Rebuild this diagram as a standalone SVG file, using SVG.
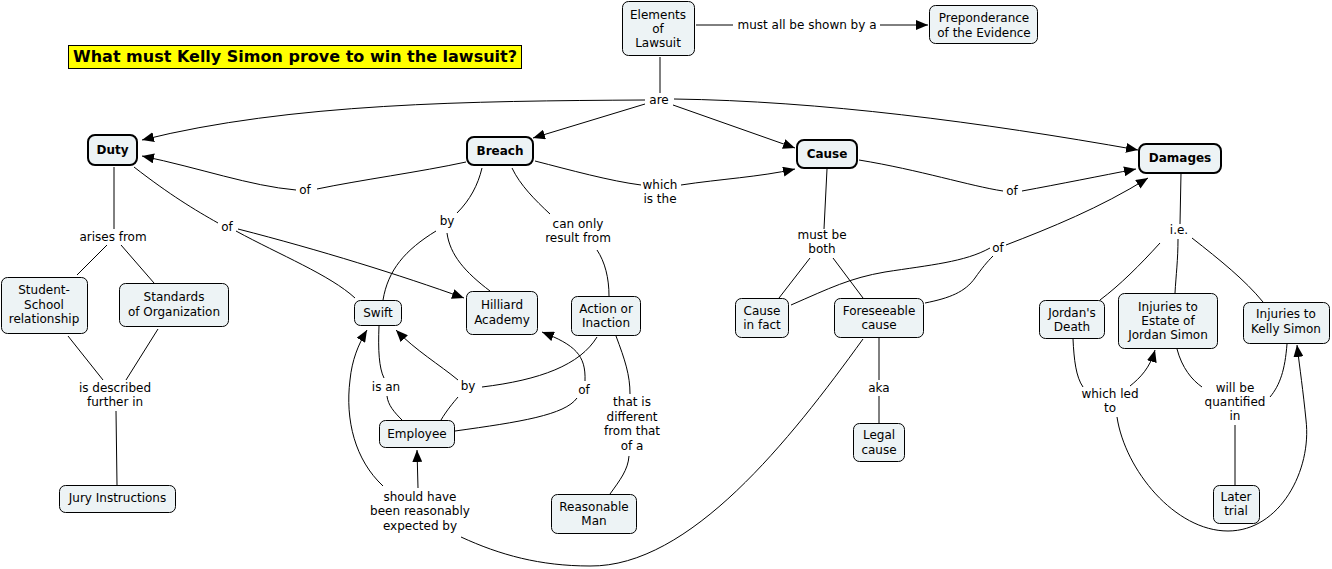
<svg xmlns="http://www.w3.org/2000/svg" width="1332" height="569" viewBox="0 0 1332 569">
<style>
text{font-family:"DejaVu Sans","Liberation Sans",sans-serif;font-size:12px;fill:#000;text-anchor:middle}
.node rect{fill:#edf3f5;stroke:#000;stroke-width:1}
.key rect{stroke-width:2}
.key text{font-weight:bold}
#connectors path{fill:none;stroke:#000;stroke-width:1}
.ar{marker-end:url(#arrow)}
</style>
<defs>
<marker id="arrow" markerUnits="userSpaceOnUse" markerWidth="13" markerHeight="10" refX="12" refY="5" orient="auto">
<path d="M0,0 L12,5 L0,10 z" fill="#000"/>
</marker>
</defs>
<rect width="1332" height="569" fill="#fff"/>

<g id="title">
<rect x="68.5" y="45.5" width="453" height="23" fill="#ffff00" stroke="#000" stroke-width="1"/>
<text x="295" y="62" style="font-weight:bold;font-size:16px">What must Kelly Simon prove to win the lawsuit?</text>
</g>

<g id="connectors">
<path d="M696,25 L733,25"/>
<path class="ar" d="M880,25 L928,25"/>
<path d="M660,57 L660,93"/>
<path class="ar" d="M645,100 C470,101 290,103 142,140"/>
<path class="ar" d="M645,104 L533,138"/>
<path class="ar" d="M673,105 L795,148"/>
<path class="ar" d="M674,99 C820,101 980,122 1138,150"/>
<path class="ar" d="M296,190 C250,186 200,168 142,156"/>
<path d="M466,162 C420,172 360,180 317,189"/>
<path d="M535,161 C570,170 610,181 641,185"/>
<path class="ar" d="M681,185 C720,179 760,177 795,169"/>
<path d="M859,160 C920,170 970,186 1003,191"/>
<path class="ar" d="M1022,191 C1060,184 1100,176 1136,169"/>
<path d="M791,305 C830,288 850,278 885,272 C930,265 965,262 990,248"/>
<path d="M925,303 C950,298 965,292 975,278 C982,268 987,262 993,256"/>
<path class="ar" d="M1006,245 C1050,228 1100,208 1148,178"/>
<path d="M134,167 C170,195 195,210 218,223"/>
<path d="M236,231 C280,255 330,275 355,298"/>
<path class="ar" d="M238,229 C320,250 400,275 464,298"/>
<path d="M114,167 L114,229"/>
<path d="M107,245 L77,275"/>
<path d="M121,245 L154,283"/>
<path d="M68,336 L103,380"/>
<path d="M158,329 L126,380"/>
<path d="M116,411 L117,485"/>
<path d="M482,168 C478,185 470,200 457,213"/>
<path d="M436,231 C405,250 388,270 383,300"/>
<path d="M447,233 C450,255 465,272 490,291"/>
<path d="M512,168 C520,185 535,200 550,214"/>
<path d="M597,250 C605,262 609,278 609,296"/>
<path d="M379,326 C378,350 379,368 384,378"/>
<path d="M387,396 C388,405 394,412 402,420"/>
<path d="M441,420 C447,410 453,403 458,397"/>
<path class="ar" d="M458,380 C440,365 415,350 396,330"/>
<path d="M597,337 C580,365 540,380 482,387"/>
<path d="M455,431 C520,422 565,415 577,398"/>
<path class="ar" d="M585,381 C586,355 575,345 542,332"/>
<path d="M616,336 C625,360 630,375 630,394"/>
<path d="M629,456 C628,470 620,480 610,494"/>
<path class="ar" d="M418,488 L417,450"/>
<path class="ar" d="M383,486 C355,460 345,420 350,380 C352,360 358,345 367,330"/>
<path d="M863,339 C790,440 690,567 590,566 C540,566 500,555 461,537"/>
<path d="M827,169 L824,229"/>
<path d="M810,258 L779,298"/>
<path d="M833,258 L863,298"/>
<path d="M879,338 L879,380"/>
<path d="M879,396 L879,423"/>
<path d="M1181,173 L1180,224"/>
<path d="M1160,243 C1140,265 1120,285 1100,300"/>
<path d="M1178,239 C1178,260 1176,275 1175,293"/>
<path d="M1192,238 C1220,260 1245,280 1263,302"/>
<path d="M1073,339 C1074,360 1076,377 1083,387"/>
<path class="ar" d="M1130,386 C1140,378 1150,368 1155,350"/>
<path class="ar" d="M1117,417 C1125,470 1175,531 1228,531 C1280,531 1312,470 1306,420 C1303,390 1300,370 1297,345"/>
<path d="M1177,349 C1182,368 1192,380 1202,387"/>
<path d="M1287,344 C1285,370 1280,385 1270,397"/>
<path d="M1235,425 L1235,485"/>
</g>

<g id="labels">
<text x="807" y="29">must all be shown by a</text>
<text x="659" y="104">are</text>
<text x="305" y="194">of</text>
<text x="227" y="231">of</text>
<text x="660" y="189">which</text>
<text x="660" y="203">is the</text>
<text x="1012" y="195">of</text>
<text x="447" y="225">by</text>
<text x="578" y="228">can only</text>
<text x="578" y="242">result from</text>
<text x="113" y="241">arises from</text>
<text x="115" y="392">is described</text>
<text x="115" y="406">further in</text>
<text x="386" y="391">is an</text>
<text x="468" y="390">by</text>
<text x="584" y="394">of</text>
<text x="632" y="406">that is</text>
<text x="632" y="421">different</text>
<text x="632" y="435">from that</text>
<text x="632" y="450">of a</text>
<text x="420" y="501">should have</text>
<text x="420" y="515">been reasonably</text>
<text x="420" y="530">expected by</text>
<text x="822" y="239">must be</text>
<text x="822" y="253">both</text>
<text x="998" y="252">of</text>
<text x="879" y="392">aka</text>
<text x="1179" y="234">i.e.</text>
<text x="1110" y="398">which led</text>
<text x="1110" y="412">to</text>
<text x="1235" y="392">will be</text>
<text x="1235" y="406">quantified</text>
<text x="1235" y="420">in</text>
</g>

<g id="elements" class="node"><rect x="622.5" y="1.5" width="72" height="54" rx="6"/><text x="658" y="19">Elements</text><text x="658" y="33">of</text><text x="658" y="47">Lawsuit</text></g>
<g id="preponderance" class="node"><rect x="929.5" y="5.5" width="108" height="38" rx="6"/><text x="984" y="22">Preponderance</text><text x="984" y="37">of the Evidence</text></g>
<g id="duty" class="node key"><rect x="88" y="135" width="49" height="30" rx="7"/><text x="112.5" y="154">Duty</text></g>
<g id="breach" class="node key"><rect x="467" y="137" width="66" height="28" rx="7"/><text x="500" y="155">Breach</text></g>
<g id="cause" class="node key"><rect x="797" y="140" width="60" height="28" rx="7"/><text x="827" y="158">Cause</text></g>
<g id="damages" class="node key"><rect x="1139" y="144" width="82" height="29" rx="7"/><text x="1180" y="162">Damages</text></g>
<g id="student" class="node"><rect x="1.5" y="277.5" width="86" height="56" rx="6"/><text x="44" y="294">Student-</text><text x="44" y="308.5">School</text><text x="44" y="323">relationship</text></g>
<g id="standards" class="node"><rect x="119.5" y="283.5" width="109" height="43" rx="6"/><text x="174" y="301">Standards</text><text x="174" y="316">of Organization</text></g>
<g id="jury" class="node"><rect x="59.5" y="485.5" width="116" height="27" rx="6"/><text x="117.5" y="502">Jury Instructions</text></g>
<g id="swift" class="node"><rect x="354.5" y="300.5" width="47" height="25" rx="6"/><text x="378" y="317">Swift</text></g>
<g id="hilliard" class="node"><rect x="466.5" y="291.5" width="71" height="43" rx="6"/><text x="502" y="309">Hilliard</text><text x="502" y="324">Academy</text></g>
<g id="action" class="node"><rect x="571.5" y="296.5" width="69" height="39" rx="6"/><text x="606" y="313">Action or</text><text x="606" y="327">Inaction</text></g>
<g id="employee" class="node"><rect x="379.5" y="420.5" width="75" height="27" rx="6"/><text x="417" y="438">Employee</text></g>
<g id="reasonable" class="node"><rect x="551.5" y="494.5" width="85" height="39" rx="6"/><text x="594" y="511">Reasonable</text><text x="594" y="525">Man</text></g>
<g id="causeinfact" class="node"><rect x="735.5" y="298.5" width="53" height="39" rx="6"/><text x="762" y="315">Cause</text><text x="762" y="329">in fact</text></g>
<g id="foreseeable" class="node"><rect x="834.5" y="298.5" width="89" height="39" rx="6"/><text x="879" y="315">Foreseeable</text><text x="879" y="329">cause</text></g>
<g id="legal" class="node"><rect x="853.5" y="423.5" width="51" height="38" rx="6"/><text x="879" y="439">Legal</text><text x="879" y="454">cause</text></g>
<g id="jordan" class="node"><rect x="1039.5" y="300.5" width="65" height="38" rx="6"/><text x="1072" y="317">Jordan's</text><text x="1072" y="331">Death</text></g>
<g id="estate" class="node"><rect x="1118.5" y="293.5" width="99" height="55" rx="6"/><text x="1168" y="311">Injuries to</text><text x="1168" y="325">Estate of</text><text x="1168" y="339">Jordan Simon</text></g>
<g id="kelly" class="node"><rect x="1243.5" y="302.5" width="86" height="41" rx="6"/><text x="1286" y="318">Injuries to</text><text x="1286" y="333">Kelly Simon</text></g>
<g id="later" class="node"><rect x="1213.5" y="485.5" width="46" height="38" rx="6"/><text x="1236" y="501">Later</text><text x="1236" y="515">trial</text></g>
</svg>
